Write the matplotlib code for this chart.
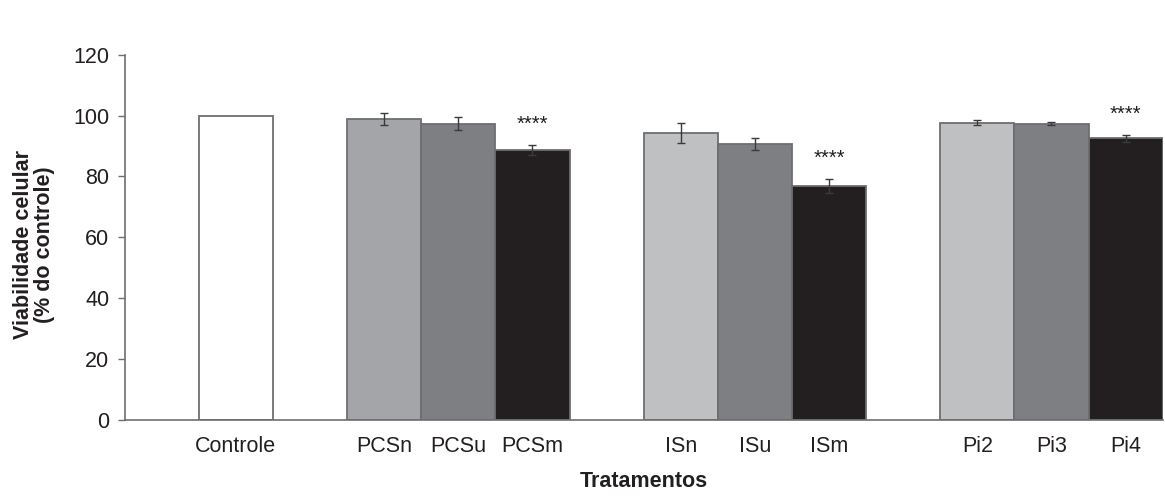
import matplotlib.pyplot as plt

# Dados
tratamentos = ['Controle', 'PCSn', 'PCSu', 'PCSm', 'ISn', 'ISu', 'ISm', 'Pi2', 'Pi3', 'Pi4']
posicoes = [0, 2, 3, 4, 6, 7, 8, 10, 11, 12]
viabilidade = [100, 98.9, 97.4, 88.8, 94.4, 90.8, 76.8, 97.7, 97.3, 92.5]
erro = [0, 2.0, 2.1, 1.7, 3.3, 2.0, 2.4, 0.7, 0.5, 1.1]
cores = ['#ffffff', '#a4a5a8', '#7e7f82', '#231f20',
         '#bfc0c2', '#7e7f82', '#231f20',
         '#bfc0c2', '#7e7f82', '#231f20']
signif = ['', '', '', '****', '', '', '****', '', '', '****']

plt.rcParams['font.family'] = ['Liberation Sans', 'DejaVu Sans']

fig = plt.figure(figsize=(11.65, 4.98), dpi=100)
ax = fig.add_axes([0.107, 0.157, 0.891, 0.733])

ax.bar(posicoes, viabilidade, width=1.0, color=cores, edgecolor='#6d6e71', linewidth=1.3, zorder=2)

# barras de erro só onde existe desvio
com_erro = [i for i, e in enumerate(erro) if e > 0]
ax.errorbar([posicoes[i] for i in com_erro], [viabilidade[i] for i in com_erro],
            yerr=[erro[i] for i in com_erro], fmt='none', ecolor='#3a3a3a',
            elinewidth=1.0, capsize=3, capthick=1.0, zorder=3)

for x, v, e, s in zip(posicoes, viabilidade, erro, signif):
    if s:
        ax.text(x, v + e + 6.8, s, ha='center', va='center', fontsize=14.5, color='#231f20')

ax.set_xlim(-1.5, 12.5)
ax.set_ylim(0, 120)
ax.set_yticks(range(0, 121, 20))
ax.set_xticks(posicoes)
ax.set_xticklabels(tratamentos)

for lado in ['top', 'right']:
    ax.spines[lado].set_visible(False)
for lado in ['left', 'bottom']:
    ax.spines[lado].set_color('#6d6e71')
    ax.spines[lado].set_linewidth(1.2)

ax.tick_params(axis='y', length=5, width=1, color='#6d6e71', labelsize=15.5, pad=6, labelcolor='#231f20')
ax.tick_params(axis='x', length=0, labelsize=15.5, pad=12, labelcolor='#231f20')

ax.set_xlabel('Tratamentos', fontsize=15.5, fontweight='bold', labelpad=10, color='#231f20')
ax.set_ylabel('Viabilidade celular\n(% do controle)', fontsize=15.5, fontweight='bold',
              color='#231f20', linespacing=1.0)
ax.yaxis.set_label_coords(-0.067, 0.48)

plt.savefig('out.png', dpi=100)
